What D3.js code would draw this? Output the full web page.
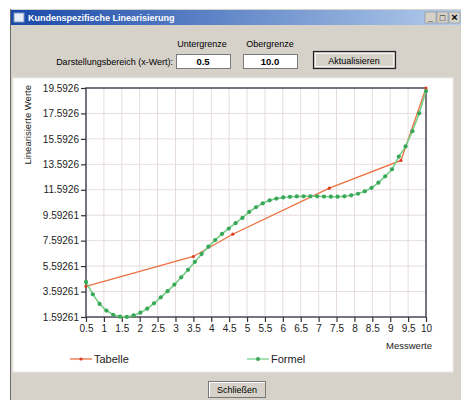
<!DOCTYPE html>
<html>
<head>
<meta charset="utf-8">
<script src="https://cdn.jsdelivr.net/npm/d3@7"></script>
<style>
body { margin: 0; background: #fff; }
text { font-family: "Liberation Sans", Arial, sans-serif; }
</style>
</head>
<body>
<div id="chart"></div>
<script>
// Tabelle: the table points (red/orange)
var tabelleX = [0.5, 3.5, 4.6, 7.3, 9.3, 10];
var tabelleY = [4.0, 6.35, 8.1, 11.72, 13.9, 19.5926];

// Formel: the formula curve (green), 51 points
var formelX = [0.5, 0.69, 0.88, 1.07, 1.26, 1.45, 1.64, 1.83, 2.02, 2.21, 2.4, 2.59, 2.78, 2.97, 3.16, 3.35, 3.54,
	3.73, 3.92, 4.11, 4.3, 4.49, 4.68, 4.87, 5.06, 5.25, 5.44, 5.63, 5.82, 6.01, 6.2, 6.39, 6.58, 6.77, 6.96,
	7.15, 7.34, 7.53, 7.72, 7.91, 8.1, 8.29, 8.48, 8.67, 8.86, 9.05, 9.24, 9.43, 9.62, 9.81, 10];
var formelY = [4.35, 3.38, 2.62, 2.1, 1.77, 1.62, 1.6, 1.72, 1.93, 2.25, 2.67, 3.14, 3.62, 4.14, 4.71, 5.3, 5.92,
	6.54, 7.12, 7.64, 8.12, 8.55, 8.97, 9.38, 9.85, 10.22, 10.53, 10.76, 10.9, 10.99, 11.04, 11.07, 11.08, 11.08, 11.08,
	11.06, 11.05, 11.05, 11.08, 11.16, 11.28, 11.47, 11.75, 12.15, 12.65, 13.2, 14.2, 15.0, 16.2, 17.6, 19.35];

var xTicks = [0.5, 1, 1.5, 2, 2.5, 3, 3.5, 4, 4.5, 5, 5.5, 6, 6.5, 7, 7.5, 8, 8.5, 9, 9.5, 10];
var yTicks = [1.59261, 3.59261, 5.59261, 7.59261, 9.59261, 11.5926, 13.5926, 15.5926, 17.5926, 19.5926];
var yTickLabels = ["1.59261", "3.59261", "5.59261", "7.59261", "9.59261", "11.5926", "13.5926", "15.5926", "17.5926", "19.5926"];

var svg = d3.select("#chart").append("svg")
	.attr("width", 461)
	.attr("height", 400);

// --- dialog window ---
svg.append("rect").attr("x", 10).attr("y", 9).attr("width", 451).attr("height", 391).style("fill", "#d6d2ca");
svg.append("line").attr("x1", 10.5).attr("y1", 9).attr("x2", 10.5).attr("y2", 400).style("stroke", "#6a6a6a");

var grad = svg.append("defs").append("linearGradient").attr("id", "tb");
grad.append("stop").attr("offset", "0%").attr("stop-color", "#1848a8");
grad.append("stop").attr("offset", "100%").attr("stop-color", "#b4cdec");
svg.append("rect").attr("x", 11).attr("y", 10).attr("width", 450).attr("height", 15).style("fill", "url(#tb)");
svg.append("rect").attr("x", 14).attr("y", 13).attr("width", 10).attr("height", 9).style("fill", "#e8eef8").style("stroke", "#8098c8");
svg.append("text").attr("x", 28).attr("y", 21).text("Kundenspezifische Linearisierung")
	.style("fill", "#fff").style("font-size", "9px").style("font-weight", "bold");

// title bar buttons
var ctrl = ["_", "\u25A1", "\u00D7"];
ctrl.forEach(function(c, i) {
	var bx = 425 + i * 12;
	svg.append("rect").attr("x", bx).attr("y", 12).attr("width", 11).attr("height", 11)
		.style("fill", "#d6d2ca").style("stroke", "#808080").style("stroke-width", 0.5);
	svg.append("text").attr("x", bx + 5.5).attr("y", 21).attr("text-anchor", "middle").text(c)
		.style("font-size", i == 2 ? "11px" : "9px").style("font-weight", "bold").style("fill", "#000");
});

// range inputs
svg.append("text").attr("x", 202).attr("y", 47).attr("text-anchor", "middle").text("Untergrenze").style("font-size", "9px");
svg.append("text").attr("x", 270).attr("y", 47).attr("text-anchor", "middle").text("Obergrenze").style("font-size", "9px");
svg.append("text").attr("x", 173).attr("y", 65).attr("text-anchor", "end").text("Darstellungsbereich (x-Wert):").style("font-size", "9px");

[[176, "0.5"], [243, "10.0"]].forEach(function(b) {
	svg.append("rect").attr("x", b[0] + 0.5).attr("y", 54.5).attr("width", 54).attr("height", 14)
		.style("fill", "#fff").style("stroke", "#7a7a7a");
	svg.append("text").attr("x", b[0] + 27).attr("y", 65).attr("text-anchor", "middle").text(b[1])
		.style("font-size", "9.5px").style("font-weight", "bold");
});

svg.append("rect").attr("x", 313.5).attr("y", 51.5).attr("width", 82).attr("height", 17)
	.style("fill", "#d6d2ca").style("stroke", "#222").style("stroke-width", 1.2);
svg.append("rect").attr("x", 315.5).attr("y", 53.5).attr("width", 78).attr("height", 13)
	.style("fill", "none").style("stroke", "#fff").style("stroke-width", 0.8);
svg.append("text").attr("x", 354).attr("y", 63.5).attr("text-anchor", "middle").text("Aktualisieren").style("font-size", "9px");

// --- chart panel ---
svg.append("rect").attr("x", 13).attr("y", 78).attr("width", 440).attr("height", 294)
	.style("fill", "#fff").style("stroke", "#ecebe8");

var x = d3.scaleLinear().domain([0.5, 10]).range([86, 426]);
var y = d3.scaleLinear().domain([1.59261, 19.5926]).range([317, 88]);

// grid
svg.append("g").selectAll("line").data(xTicks).enter().append("line")
	.attr("x1", function(d) { return x(d); }).attr("x2", function(d) { return x(d); })
	.attr("y1", y.range()[1]).attr("y2", y.range()[0])
	.style("stroke", "#e6dcdc").style("stroke-width", 1);
svg.append("g").selectAll("line").data(yTicks).enter().append("line")
	.attr("y1", function(d) { return y(d); }).attr("y2", function(d) { return y(d); })
	.attr("x1", x.range()[0]).attr("x2", x.range()[1])
	.style("stroke", "#e6dcdc").style("stroke-width", 1);

// frame
svg.append("rect").attr("x", x.range()[0]).attr("y", y.range()[1])
	.attr("width", x.range()[1] - x.range()[0]).attr("height", y.range()[0] - y.range()[1])
	.style("fill", "none").style("stroke", "#4c4c5c").style("stroke-width", 1.5);

// axes
var xAxis = svg.append("g").attr("transform", "translate(0," + y.range()[0] + ")")
	.call(d3.axisBottom(x).tickValues(xTicks).tickSize(5).tickPadding(3).tickFormat(function(d) { return d3.format("")(d); }));
var yAxis = svg.append("g").attr("transform", "translate(" + x.range()[0] + ",0)")
	.call(d3.axisLeft(y).tickValues(yTicks).tickSize(5).tickPadding(2).tickFormat(function(d, i) { return yTickLabels[i]; }));
[xAxis, yAxis].forEach(function(a) {
	a.select(".domain").remove();
	a.selectAll(".tick line").style("stroke", "#333").style("stroke-width", 1.2);
	a.selectAll(".tick text").style("font-family", "'Liberation Sans', Arial, sans-serif")
		.style("font-size", "10px").style("fill", "#222");
});

svg.append("text").attr("transform", "translate(31,85) rotate(-90)").attr("text-anchor", "end")
	.text("Linearisierte Werte").style("font-size", "9.5px").style("fill", "#222");
svg.append("text").attr("x", 432).attr("y", 349).attr("text-anchor", "end")
	.text("Messwerte").style("font-size", "9.5px").style("fill", "#222");

// series
var tabelle = tabelleX.map(function(d, i) { return [d, tabelleY[i]]; });
var formel = formelX.map(function(d, i) { return [d, formelY[i]]; });
var line = d3.line().x(function(d) { return x(d[0]); }).y(function(d) { return y(d[1]); });

svg.append("path").datum(tabelle).attr("d", line)
	.style("fill", "none").style("stroke", "#ec7040").style("stroke-width", 1.3);
svg.append("g").selectAll("circle").data(tabelle).enter().append("circle")
	.attr("cx", function(d) { return x(d[0]); }).attr("cy", function(d) { return y(d[1]); })
	.attr("r", 1.6).style("fill", "#dc3c1c");

svg.append("path").datum(formel).attr("d", line)
	.style("fill", "none").style("stroke", "#78d08a").style("stroke-width", 1.6);
svg.append("g").selectAll("circle").data(formel).enter().append("circle")
	.attr("cx", function(d) { return x(d[0]); }).attr("cy", function(d) { return y(d[1]); })
	.attr("r", 2.1).style("fill", "#38a858");

// legend
var legend = [["Tabelle", 70, "#ec7040", "#dc3c1c", 1.6], ["Formel", 247, "#78d08a", "#38a858", 2]];
legend.forEach(function(l) {
	svg.append("line").attr("x1", l[1]).attr("x2", l[1] + 22).attr("y1", 359).attr("y2", 359)
		.style("stroke", l[2]).style("stroke-width", 1.3);
	svg.append("circle").attr("cx", l[1] + 11).attr("cy", 359).attr("r", l[4]).style("fill", l[3]);
	svg.append("text").attr("x", l[1] + 24).attr("y", 363).text(l[0]).style("font-size", "11px").style("fill", "#222");
});

// close button
svg.append("rect").attr("x", 208.5).attr("y", 381.5).attr("width", 57).attr("height", 16)
	.style("fill", "#d6d2ca").style("stroke", "#777");
svg.append("line").attr("x1", 209).attr("x2", 265).attr("y1", 382.5).attr("y2", 382.5).style("stroke", "#fff");
svg.append("line").attr("x1", 209.5).attr("x2", 209.5).attr("y1", 382).attr("y2", 397).style("stroke", "#fff");
svg.append("text").attr("x", 237).attr("y", 393).attr("text-anchor", "middle").text("Schließen").style("font-size", "9px");
</script>
</body>
</html>
